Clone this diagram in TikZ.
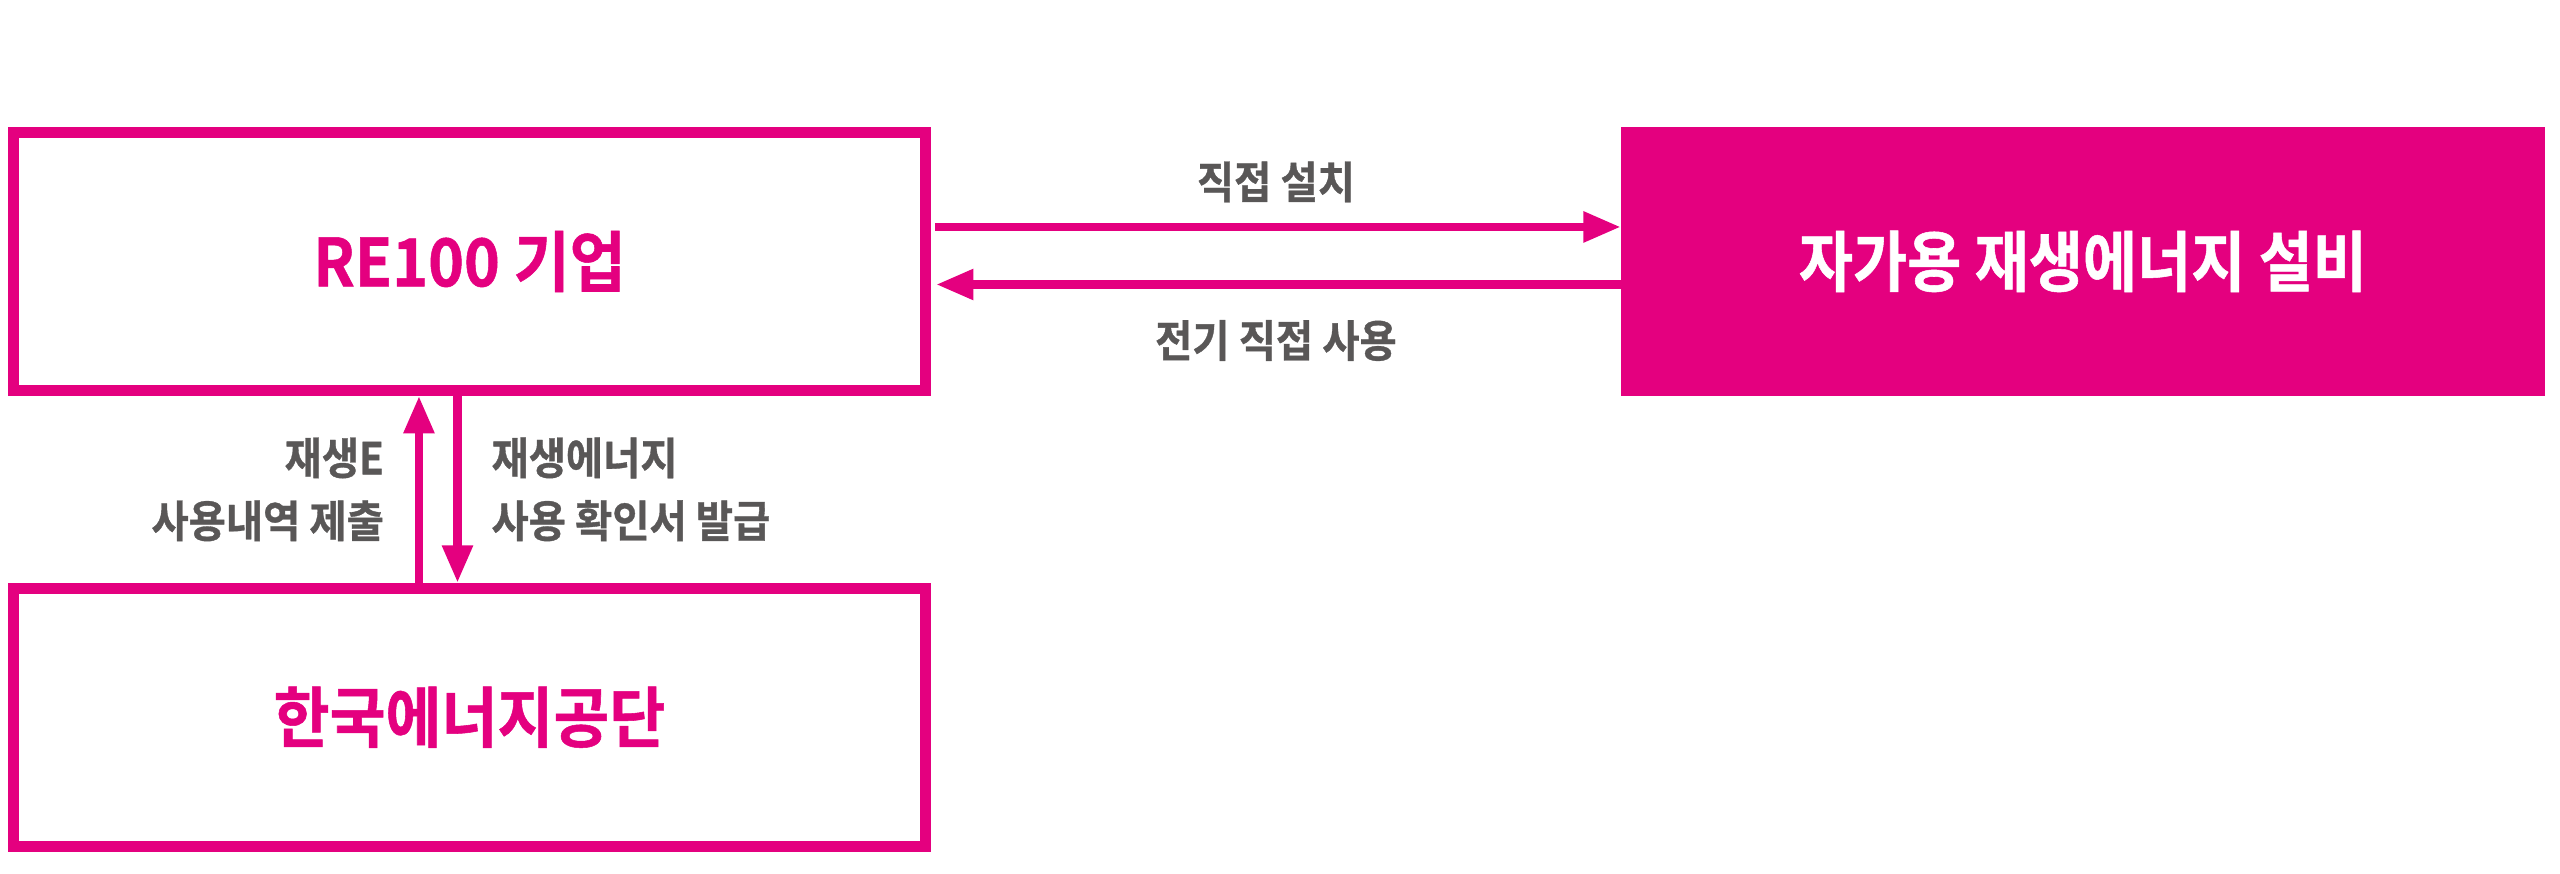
\documentclass[tikz,border=0pt]{standalone}
\usepackage{fontspec}
\usepackage{tikz}
\usetikzlibrary{arrows.meta}
\setmainfont{Noto Sans CJK KR}[FakeStretch=0.92,BoldFont=* Bold,BoldFeatures={FakeBold=0.8}]
\newfontfamily\narrowfont{Noto Sans CJK KR}[FakeStretch=0.89,UprightFont=* Bold,UprightFeatures={FakeBold=0.8}]
\definecolor{kmagenta}{HTML}{E4007F}
\definecolor{kgray}{HTML}{595757}

\begin{document}
\begin{tikzpicture}[x=0.01cm,y=-0.01cm,->,>={Triangle[length=10.6pt,width=8.3pt]},
  line width=2.3pt,draw=kmagenta,node distance=4.555cm,
  box node/.style={rectangle,draw=kmagenta,line width=3.13pt,minimum width=9.12cm,
    minimum height=2.58cm,text=kmagenta,font=\fontsize{18.8}{22}\selectfont\bfseries},
  fill node/.style={rectangle,fill=kmagenta,draw=none,outer sep=0pt,minimum width=9.24cm,
    minimum height=2.69cm,text=white,font=\fontsize{18.8}{22}\selectfont\narrowfont},
  label node/.style={text=kgray,inner sep=0pt,font=\fontsize{12.5}{17.9}\selectfont\bfseries}]

  \useasboundingbox (0,0) rectangle (2560,874);

  \node[box node] (re100) at (469.5,261.5) {RE100 기업};
  \node[box node] (kea) [below of=re100] {한국에너지공단};
  \node[fill node] (plant) [right of=re100,node distance=16.125cm] {자가용 재생에너지 설비};

  % re100 <-> plant
  \draw[shorten <=1.1pt] ([yshift=3.45mm]re100.east) -- ([yshift=3.45mm]plant.west)
    node[midway,yshift=4.5mm,label node] {직접 설치};
  \draw[shorten >=1.4pt] ([yshift=-2.3mm]plant.west) -- ([yshift=-2.3mm]re100.east)
    node[midway,yshift=-5.6mm,label node] {전기 직접 사용};

  % re100 <-> kea
  \draw ([xshift=-5.05mm]kea.north) -- ([xshift=-5.05mm]re100.south)
    node[midway,left=3.1mm,align=right,label node] {재생E\\사용내역 제출};
  \draw ([xshift=-1.2mm]re100.south) -- ([xshift=-1.2mm]kea.north)
    node[midway,right=3mm,align=left,label node] {재생에너지\\사용 확인서 발급};

\end{tikzpicture}
\end{document}
